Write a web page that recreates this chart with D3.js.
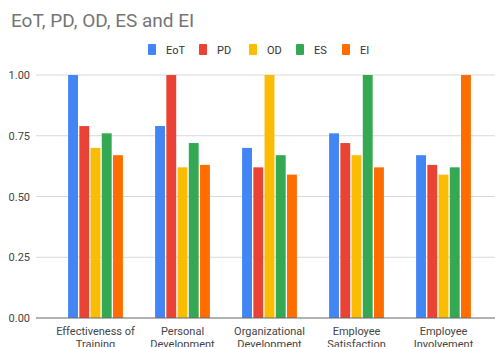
<!DOCTYPE html>
<html>
<head>
<meta http-equiv="Content-Type" content="text/html; charset=UTF-8">
<script src="https://d3js.org/d3.v7.min.js"></script>
<style>
  body { margin: 0; background: #fff; }
  text { font-family: Roboto, Arial, sans-serif; }
</style>
</head>
<body>
<div id="chart"></div>
<script>
// data
var categories = [["Effectiveness of", "Training"], ["Personal", "Development"], ["Organizational", "Development"], ["Employee", "Satisfaction"], ["Employee", "Involvement"]];
var seriesNames = ["EoT", "PD", "OD", "ES", "EI"];
var EoT = [1.00, 0.79, 0.70, 0.76, 0.67];
var PD  = [0.79, 1.00, 0.62, 0.72, 0.63];
var OD  = [0.70, 0.62, 1.00, 0.67, 0.59];
var ES  = [0.76, 0.72, 0.67, 1.00, 0.62];
var EI  = [0.67, 0.63, 0.59, 0.62, 1.00];
var yTicks = [0, 0.25, 0.5, 0.75, 1];
var colors = ["#4285F4", "#EA4335", "#FBBC04", "#34A853", "#FF6D01"];

var series = [EoT, PD, OD, ES, EI];
var W = 495, H = 347;

var svg = d3.select("#chart").append("svg")
  .attr("width", W).attr("height", H);

// title
svg.append("text")
  .attr("x", 11).attr("y", 27)
  .attr("font-size", 19)
  .attr("fill", "#757575")
  .text("EoT, PD, OD, ES and EI");

// scales
var x0 = d3.scaleBand()
  .domain(d3.range(categories.length))
  .range([52, 487])
  .paddingInner(0.37)
  .paddingOuter(0.185);
var x1 = d3.scaleBand()
  .domain(d3.range(seriesNames.length))
  .range([0, x0.bandwidth()])
  .paddingInner(0.12);
var y = d3.scaleLinear().domain([0, 1]).range([318, 75]);

// grid
svg.append("g")
  .selectAll("line")
  .data(yTicks.slice(1))
  .enter().append("line")
    .attr("x1", 36).attr("x2", W)
    .attr("y1", function(d) { return y(d); })
    .attr("y2", function(d) { return y(d); })
    .attr("stroke", "#d9d9d9");

// y labels
var yAxis = svg.append("g")
  .attr("transform", "translate(36,0)")
  .call(d3.axisLeft(y).tickValues(yTicks).tickFormat(d3.format(".2f")).tickSize(0).tickPadding(6));
yAxis.select(".domain").remove();
yAxis.selectAll("text").attr("font-size", 11).attr("fill", "#444").attr("font-family", "Roboto, Arial, sans-serif");

// bars
var groups = svg.append("g").selectAll("g")
  .data(categories)
  .enter().append("g")
    .attr("transform", function(d, i) { return "translate(" + x0(i) + ",0)"; });

groups.selectAll("rect")
  .data(function(d, i) { return series.map(function(s, j) { return {j: j, v: s[i]}; }); })
  .enter().append("rect")
    .attr("x", function(d) { return x1(d.j); })
    .attr("y", function(d) { return y(d.v); })
    .attr("width", x1.bandwidth())
    .attr("height", function(d) { return y(0) - y(d.v); })
    .attr("fill", function(d) { return colors[d.j]; });

// baseline
svg.append("line")
  .attr("x1", 36).attr("x2", W)
  .attr("y1", y(0)).attr("y2", y(0))
  .attr("stroke", "#666").attr("stroke-width", 1.2);

// x labels (second line is cut by the bottom edge, as in the reference)
var xl = svg.append("g").selectAll("text")
  .data(categories)
  .enter().append("text")
    .attr("x", function(d, i) { return x0(i) + x0.bandwidth() / 2; })
    .attr("y", 335)
    .attr("text-anchor", "middle")
    .attr("font-size", 11)
    .attr("fill", "#444");
xl.selectAll("tspan")
  .data(function(d) { return d; })
  .enter().append("tspan")
    .attr("x", function() { return d3.select(this.parentNode).attr("x"); })
    .attr("dy", function(d, k) { return k ? 12.5 : 0; })
    .text(function(d) { return d; });

// legend
var legendX = [148, 199, 249, 296, 342];
var lg = svg.append("g").selectAll("g")
  .data(seriesNames)
  .enter().append("g")
    .attr("transform", function(d, i) { return "translate(" + legendX[i] + ",44)"; });
lg.append("rect")
  .attr("width", 8).attr("height", 11).attr("rx", 1)
  .attr("fill", function(d, i) { return colors[i]; });
lg.append("text")
  .attr("x", 18).attr("y", 10)
  .attr("font-size", 11)
  .attr("fill", "#333")
  .text(function(d) { return d; });
</script>
</body>
</html>
